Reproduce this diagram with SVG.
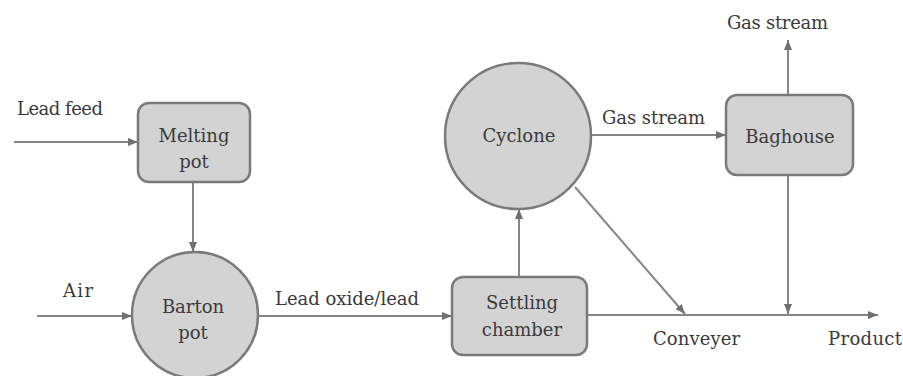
<svg xmlns="http://www.w3.org/2000/svg" width="903" height="376" viewBox="0 0 903 376">
<style>
.node{fill:#d3d3d3;stroke:#7a7a7a;stroke-width:2.5}
.c{fill:none;stroke:#858585;stroke-width:2}
.t{font-family:'DejaVu Serif','Liberation Serif',serif;font-size:18px;fill:#3a3a3a}
.m{text-anchor:middle}
</style>
<defs>
<marker id="ah" viewBox="0 0 10 10" refX="10" refY="5" markerWidth="5" markerHeight="5" orient="auto" markerUnits="strokeWidth">
<path d="M0,1 L10,5 L0,9 z" fill="#707070"/>
</marker>
</defs>
<rect width="903" height="376" fill="#fff"/>
<g id="connectors">
<line class="c" x1="14" y1="142" x2="138" y2="142" marker-end="url(#ah)"/>
<line class="c" x1="193" y1="182" x2="193" y2="252" marker-end="url(#ah)"/>
<line class="c" x1="37" y1="316" x2="132" y2="316" marker-end="url(#ah)"/>
<line class="c" x1="258" y1="316" x2="452" y2="316" marker-end="url(#ah)"/>
<line class="c" x1="519" y1="277" x2="519" y2="209" marker-end="url(#ah)"/>
<line class="c" x1="592" y1="135" x2="726" y2="135" marker-end="url(#ah)"/>
<line class="c" x1="788" y1="95" x2="788" y2="40" marker-end="url(#ah)"/>
<line class="c" x1="788" y1="175" x2="788" y2="314" marker-end="url(#ah)"/>
<line class="c" x1="575" y1="187" x2="685" y2="314" marker-end="url(#ah)"/>
<line class="c" x1="587" y1="315" x2="878" y2="315" marker-end="url(#ah)"/>
<text class="t" x="17" y="115" textLength="86">Lead feed</text>
<text class="t" x="63" y="297" textLength="30">Air</text>
<text class="t" x="275" y="305" textLength="144">Lead oxide/lead</text>
<text class="t" x="602" y="124" textLength="103">Gas stream</text>
<text class="t" x="727" y="29" textLength="101">Gas stream</text>
<text class="t" x="653" y="345" textLength="87">Conveyer</text>
<text class="t" x="828" y="345" textLength="74">Product</text>
</g>
<g id="melting-pot">
<rect class="node" x="138" y="103" width="112" height="79" rx="11"/>
<text class="t m" x="194" y="142">Melting</text>
<text class="t m" x="194" y="168">pot</text>
</g>
<g id="barton-pot">
<circle class="node" cx="195" cy="315" r="63"/>
<text class="t m" x="193" y="313">Barton</text>
<text class="t m" x="193" y="339">pot</text>
</g>
<g id="settling-chamber">
<rect class="node" x="452" y="277" width="135" height="78" rx="11"/>
<text class="t m" x="522" y="309">Settling</text>
<text class="t m" x="522" y="336">chamber</text>
</g>
<g id="cyclone">
<circle class="node" cx="518" cy="136" r="73"/>
<text class="t m" x="519" y="142">Cyclone</text>
</g>
<g id="baghouse">
<rect class="node" x="726" y="95" width="127" height="80" rx="11"/>
<text class="t m" x="790" y="143">Baghouse</text>
</g>
</svg>
